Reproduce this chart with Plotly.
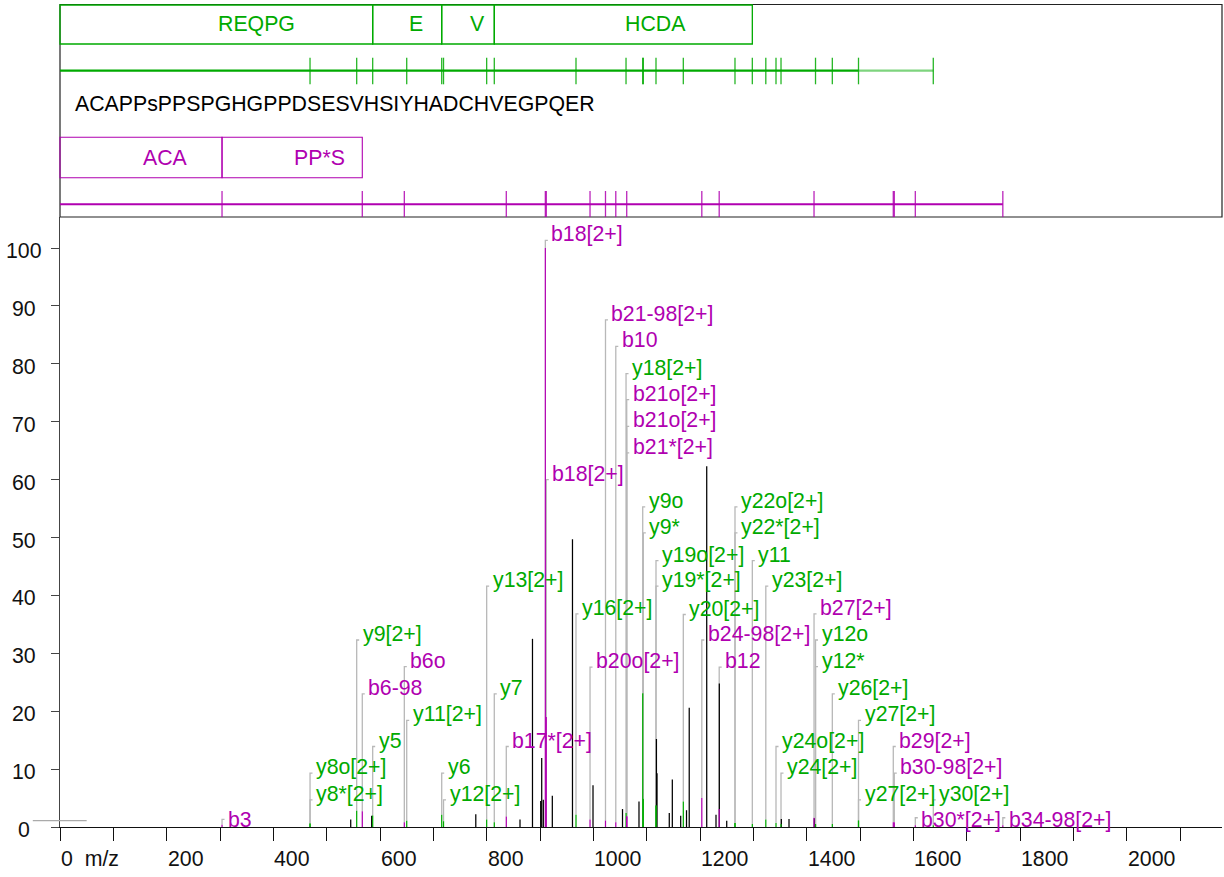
import plotly.graph_objects as go

# ---------------- data ----------------
# b-type fragment ions (purple): m/z, observed intensity, label level, label
b_mz = [303.8, 566.8, 645.6, 836.8, 910.0, 911.8, 993.8, 1022.8, 1042.1, 1062.6,
        1062.6, 1062.6, 1203.4, 1236.0, 1413.8, 1562.4, 1564.3, 1603.7, 1767.8]
b_int = [0.4, 2.7, 0.8, 1.8, 100.0, 19.0, 1.3, 1.1, 0.8, 1.8,
         1.8, 1.8, 5.0, 3.1, 1.6, 0.8, 0.8, 0.3, 0.3]
b_lvl = [1.3, 23.0, 27.7, 13.9, 101.3, 60.0, 27.6, 87.6, 83.0, 73.8,
         69.2, 64.6, 32.3, 27.6, 36.8, 13.9, 9.3, 1.6, 1.6]
b_lab = ["b3", "b6-98", "b6o", "b17*[2+]", "b18[2+]", "b18[2+]", "b20o[2+]",
         "b21-98[2+]", "b10", "b21o[2+]", "b21o[2+]", "b21*[2+]", "b24-98[2+]",
         "b12", "b27[2+]", "b29[2+]", "b30-98[2+]", "b30*[2+]", "b34-98[2+]"]

# y-type fragment ions (green)
y_mz = [468.8, 468.8, 556.3, 586.3, 650.1, 715.7, 719.1, 800.0, 814.3, 967.5,
        1061.3, 1092.6, 1093.7, 1117.5, 1117.5, 1168.7, 1265.6, 1265.6, 1298.1,
        1323.4, 1342.5, 1351.9, 1416.6, 1416.6, 1448.1, 1497.2, 1497.2, 1637.4]
y_int = [0.6, 0.6, 2.8, 2.0, 1.1, 2.1, 1.0, 1.3, 0.8, 2.1,
         2.4, 23.1, 4.9, 3.7, 3.7, 4.4, 0.7, 0.7, 0.5,
         1.3, 0.7, 0.5, 0.5, 0.5, 0.5, 1.1, 1.1, 0.3]
y_lvl = [9.3, 4.7, 32.3, 13.9, 18.4, 9.3, 4.7, 41.6, 23.0, 36.8,
         78.3, 55.3, 50.8, 46.0, 41.6, 36.7, 55.3, 50.8, 46.0,
         41.6, 13.9, 9.3, 32.3, 27.7, 23.0, 18.4, 4.7, 4.7]
y_lab = ["y8o[2+]", "y8*[2+]", "y9[2+]", "y5", "y11[2+]", "y6", "y12[2+]",
         "y13[2+]", "y7", "y16[2+]", "y18[2+]", "y9o", "y9*", "y19o[2+]",
         "y19*[2+]", "y20[2+]", "y22o[2+]", "y22*[2+]", "y11", "y23[2+]",
         "y24o[2+]", "y24[2+]", "y12o", "y12*", "y26[2+]", "y27[2+]",
         "y27[2+]", "y30[2+]"]

# unassigned peaks (black)
u_mz = [545.1, 584.4, 779.6, 862.5, 885.9, 901.3, 903.2, 906.2, 923.1, 960.9,
        999.4, 1054.7, 1085.6, 1118.3, 1119.4, 1142.4, 1148.1, 1163.8, 1174.7,
        1179.8, 1212.6, 1230.0, 1236.2, 1250.1, 1352.5, 1366.9, 1414.3]
u_int = [1.3, 1.95, 2.2, 1.3, 32.5, 4.5, 11.9, 4.7, 5.4, 49.7,
         7.2, 3.1, 4.4, 15.2, 9.3, 2.4, 8.2, 1.95, 2.9,
         20.6, 62.3, 2.1, 24.8, 1.1, 1.4, 1.4, 1.5]

# precursor marker
prec_mz = [-51.0, 50.0]
prec_int = 1.1

# sequence and covered stretches
sequence = "ACAPPsPPSPGHGPPDSESVHSIYHADCHVEGPQER"
y_boxes = ["REQPG", "E", "V", "HCDA"]
y_box_edges = [0.0, 586.3, 715.7, 814.3, 1298.1]
b_boxes = ["ACA", "PP*S"]
b_box_edges = [0.0, 303.8, 566.8]
y_line_end = [1497.2, 1637.4]
b_line_end = 1767.8

x_ticks = list(range(0, 2001, 200))
y_ticks = list(range(0, 101, 10))

# ---------------- layout constants ----------------
W, H = 1224, 877
ML, MR, MT, MB = 60, 2, 4, 50
PW, PH = W - ML - MR, H - MT - MB
MZ_PER_PX = 1.875
X_MAX = PW * MZ_PER_PX
PX_PER_INT = 5.79
SPLIT = 217                      # pixel row where the ion map ends
SPEC_DOM = (H - MB - SPLIT) / PH
Y_MAX = (H - MB - SPLIT) / PX_PER_INT

GREEN = "#00aa00"
PURPLE = "#b000b0"
LEAD = "#b8b8b8"
FONT = "Liberation Sans, Arial, sans-serif"
FS = 21.3


def px(mz):
    return mz / X_MAX


def py(row):
    return (H - MB - row) / PH


def sticks(xs, y0s, y1s):
    X, Y = [], []
    for x, a, b in zip(xs, y0s, y1s):
        X += [x, x, None]
        Y += [a, b, None]
    return X, Y


fig = go.Figure()

# leader lines from each assigned peak up to its label
stub = 2.5 * MZ_PER_PX
LX, LY = [], []
for mzs, ints, lvls in ((b_mz, b_int, b_lvl), (y_mz, y_int, y_lvl)):
    for m, i, l in zip(mzs, ints, lvls):
        LX += [m, m, m + stub, None]
        LY += [min(i, l), l, l, None]
fig.add_trace(go.Scatter(x=LX, y=LY, mode="lines", line=dict(color=LEAD, width=1.3),
                         hoverinfo="skip", showlegend=False))

for xs, ints, col in ((u_mz, u_int, "#000000"), (y_mz, y_int, GREEN), (b_mz, b_int, PURPLE)):
    X, Y = sticks(xs, [0] * len(xs), ints)
    fig.add_trace(go.Scatter(x=X, y=Y, mode="lines", line=dict(color=col, width=1.25),
                             hoverinfo="skip", showlegend=False))

ann = []
for mzs, lvls, labs, col in ((b_mz, b_lvl, b_lab, PURPLE), (y_mz, y_lvl, y_lab, GREEN)):
    for m, l, t in zip(mzs, lvls, labs):
        base = l if l >= 2 else 0.2
        ann.append(dict(x=m, y=base, xref="x", yref="y", text=t, showarrow=False,
                        xanchor="left", yanchor="bottom", xshift=4, yshift=-8,
                        font=dict(family=FONT, size=FS, color=col)))

# axis tick labels
for v in x_ticks:
    ann.append(dict(x=v, y=py(859), xref="x", yref="paper",
                    text="0\u00a0\u00a0m/z" if v == 0 else str(v), showarrow=False,
                    xanchor="left", yanchor="middle", xshift=-1,
                    font=dict(family=FONT, size=FS, color="#111")))
for v in y_ticks:
    ann.append(dict(x=(24 - ML) / PW, y=v, xref="paper", yref="y", text=str(v),
                    showarrow=False, xanchor="center", yanchor="middle", yshift=-3,
                    font=dict(family=FONT, size=FS, color="#111")))

shapes = []
# precursor marker
shapes.append(dict(type="line", xref="paper", yref="y", x0=px(prec_mz[0]), x1=px(prec_mz[1]),
                   y0=prec_int, y1=prec_int, line=dict(color="#aaaaaa", width=1.2)))

# ion map frame
shapes.append(dict(type="rect", xref="paper", yref="paper", x0=0, x1=1, y0=py(SPLIT), y1=py(4.5),
                   line=dict(color="#222", width=1.2)))

# y-ion coverage boxes
for k, name in enumerate(y_boxes):
    a, b = y_box_edges[k], y_box_edges[k + 1]
    shapes.append(dict(type="rect", xref="paper", yref="paper", x0=px(a), x1=px(b),
                       y0=py(44), y1=py(5), line=dict(color=GREEN, width=1.3)))
    ann.append(dict(x=px((a + b) / 2), y=py(23.5), xref="paper", yref="paper", text=name,
                    showarrow=False, xanchor="left", yanchor="middle",
                    font=dict(family=FONT, size=FS, color=GREEN)))
# b-ion coverage boxes
for k, name in enumerate(b_boxes):
    a, b = b_box_edges[k], b_box_edges[k + 1]
    shapes.append(dict(type="rect", xref="paper", yref="paper", x0=px(a), x1=px(b),
                       y0=py(177.7), y1=py(137.3), line=dict(color=PURPLE, width=1.1)))
    ann.append(dict(x=px((a + b) / 2), y=py(157.5), xref="paper", yref="paper", text=name,
                    showarrow=False, xanchor="left", yanchor="middle",
                    font=dict(family=FONT, size=FS, color=PURPLE)))

# y-ion ladder
shapes.append(dict(type="line", xref="paper", yref="paper", x0=0, x1=px(y_line_end[0]),
                   y0=py(70.7), y1=py(70.7), line=dict(color=GREEN, width=2.2)))
shapes.append(dict(type="line", xref="paper", yref="paper", x0=px(y_line_end[0]),
                   x1=px(y_line_end[1]), y0=py(70.7), y1=py(70.7),
                   line=dict(color=GREEN, width=2.2), opacity=0.5))
for m in sorted(set(y_mz)):
    shapes.append(dict(type="line", xref="paper", yref="paper", x0=px(m), x1=px(m),
                       y0=py(84.3), y1=py(57.7), line=dict(color=GREEN, width=1.3), opacity=0.85))
# b-ion ladder
shapes.append(dict(type="line", xref="paper", yref="paper", x0=0, x1=px(b_line_end),
                   y0=py(204.3), y1=py(204.3), line=dict(color=PURPLE, width=2)))
for m in sorted(set(b_mz)):
    shapes.append(dict(type="line", xref="paper", yref="paper", x0=px(m), x1=px(m),
                       y0=py(217), y1=py(191), line=dict(color=PURPLE, width=1.3), opacity=0.85))

ann.append(dict(x=(73 - ML) / PW, y=py(104.3), xref="paper", yref="paper", text=sequence,
                showarrow=False, xanchor="left", yanchor="middle",
                font=dict(family=FONT, size=FS, color="#000")))

fig.update_layout(
    width=W, height=H, margin=dict(l=ML, r=MR, t=MT, b=MB),
    paper_bgcolor="white", plot_bgcolor="white",
    xaxis=dict(range=[0, X_MAX], tick0=0, dtick=100, ticks="outside", ticklen=13,
               tickcolor="#111", tickwidth=1.3, showline=True, linecolor="#111", linewidth=1.3,
               showticklabels=False, showgrid=False, zeroline=False),
    yaxis=dict(domain=[0, SPEC_DOM], range=[0, Y_MAX], tick0=0, dtick=10, ticks="outside",
               ticklen=8, tickcolor="#444", tickwidth=1.3, showline=True, linecolor="#444",
               linewidth=1.3, showticklabels=False, showgrid=False, zeroline=False),
    annotations=ann, shapes=shapes, showlegend=False,
)

fig.write_html("out.html")
